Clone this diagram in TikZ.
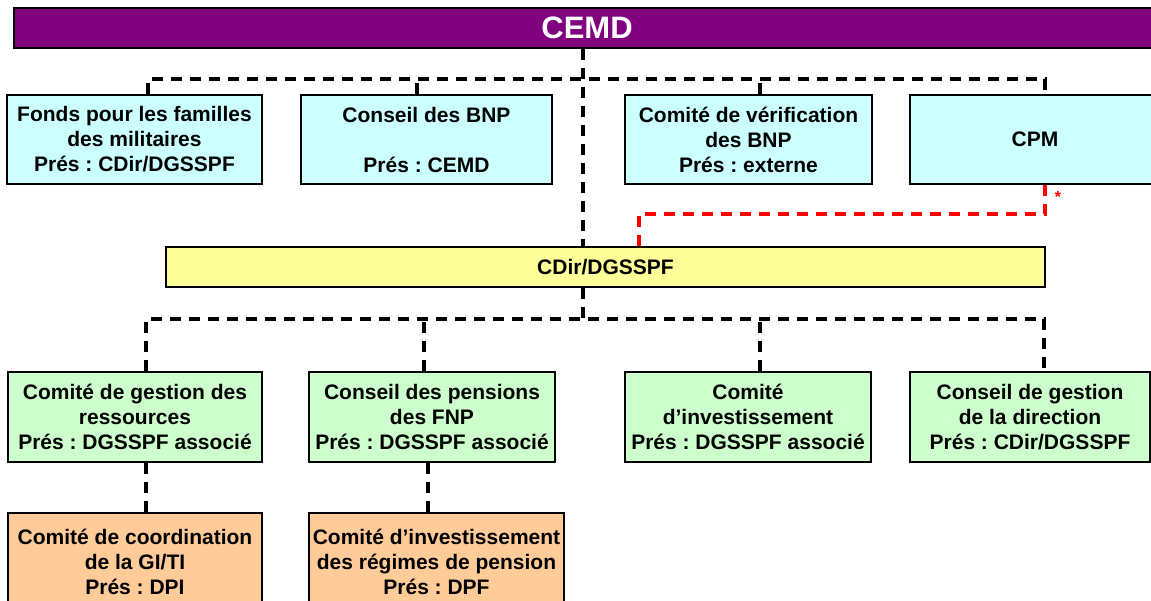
\documentclass[tikz,border=0pt]{standalone}
\usepackage{fontspec}
\setmainfont{Liberation Sans}
\frenchspacing

\definecolor{cemdpurple}{HTML}{800080}
\definecolor{boardcyan}{HTML}{CCFFFF}
\definecolor{cdiryellow}{HTML}{FFFF99}
\definecolor{cttgreen}{HTML}{CCFFCC}
\definecolor{subpeach}{HTML}{FFCC99}

\begin{document}
\begin{tikzpicture}[x=1pt, y=-1pt,
  box/.style={rectangle, draw=black, line width=2pt, align=center, inner sep=0pt,
    minimum height=89pt, font=\bfseries\fontsize{21}{25}\selectfont},
  link/.style={draw=black, line width=3.2pt, dash pattern=on 11pt off 8pt},
  redlink/.style={draw=red, line width=3.2pt, dash pattern=on 11pt off 8pt}]
  \useasboundingbox (0,0) rectangle (1151,601);

  % Top block (CEMD)
  \node (cemd) [box, fill=cemdpurple, text=white, minimum width=1146pt, minimum height=40pt,
    font=\bfseries\fontsize{31}{31}\selectfont] at (587,28) {CEMD};

  % Boards reporting to the CEMD
  \node (fonds) [box, fill=boardcyan, minimum width=255pt] at (134.5,139.5) {Fonds pour les familles\\des militaires\\Prés : CDir/DGSSPF};
  \node (bnp) [box, fill=boardcyan, minimum width=251pt] at (426.5,139.5) {Conseil des BNP\\[25pt]Prés : CEMD};
  \node (verif) [box, fill=boardcyan, minimum width=247pt] at (748.5,139.5) {Comité de vérification\\des BNP\\Prés : externe};
  \node (cpm) [box, fill=boardcyan, minimum width=250pt] at (1035,139.5) {CPM};

  % Middle block
  \node (cdir) [box, fill=cdiryellow, minimum width=879pt, minimum height=40pt] at (605.5,267) {CDir/DGSSPF};
  \node (star) [text=red, font=\bfseries\fontsize{16}{16}\selectfont] at (1058,197) {*};

  % Committees under the CDir/DGSSPF
  \node (gestres) [box, fill=cttgreen, minimum width=254pt, minimum height=90pt] at (135,417) {Comité de gestion des\\ressources\\Prés : DGSSPF associé};
  \node (pension) [box, fill=cttgreen, minimum width=246pt, minimum height=90pt] at (432,417) {Conseil des pensions\\des FNP\\Prés : DGSSPF associé};
  \node (invest) [box, fill=cttgreen, minimum width=246pt, minimum height=90pt] at (748,417) {Comité\\d’investissement\\Prés : DGSSPF associé};
  \node (direction) [box, fill=cttgreen, minimum width=240pt, minimum height=90pt] at (1030,417) {Conseil de gestion\\de la direction\\Prés : CDir/DGSSPF};

  % Sub-committees
  \node (coord) [box, fill=subpeach, minimum width=254pt, minimum height=97pt] at (135,561.5) {Comité de coordination\\de la GI/TI\\Prés : DPI};
  \node (regimes) [box, fill=subpeach, minimum width=255pt, minimum height=97pt] at (436.5,561.5) {Comité d’investissement\\des régimes de pension\\Prés : DPF};

  % Bus points
  \coordinate (topbus) at (583,79);
  \coordinate (t1) at (148,79);
  \coordinate (t2) at (417,79);
  \coordinate (t3) at (760,79);
  \coordinate (t4) at (1045,79);
  \coordinate (lowbus) at (583,319);
  \coordinate (b1) at (146,319);
  \coordinate (b2) at (424,319);
  \coordinate (b3) at (760,319);
  \coordinate (b4) at (1044,319);
  \coordinate (s1) at (146,490);
  \coordinate (s2) at (428,490);
  \coordinate (rstart) at (1045,214);
  \coordinate (rturn) at (639,214);

  % Connecting lines
  \draw [link] (cemd.south -| topbus) -- (cdir.north -| topbus);
  \draw [link] (fonds.north -| t1) |- (t4) -- (cpm.north -| t4);
  \draw [link] (bnp.north -| t2) -- (t2);
  \draw [link] (verif.north -| t3) -- (t3);

  \draw [link] (cdir.south -| lowbus) -- (lowbus);
  \draw [link] (gestres.north -| b1) |- (b4) -- (direction.north -| b4);
  \draw [link] (pension.north -| b2) -- (b2);
  \draw [link] (invest.north -| b3) -- (b3);

  \draw [link] (gestres.south -| s1) -- (coord.north -| s1);
  \draw [link] (pension.south -| s2) -- (regimes.north -| s2);

  \draw [redlink] (cpm.south -| rstart) -- (rstart) -- (rturn) -- (cdir.north -| rturn);
\end{tikzpicture}
\end{document}
